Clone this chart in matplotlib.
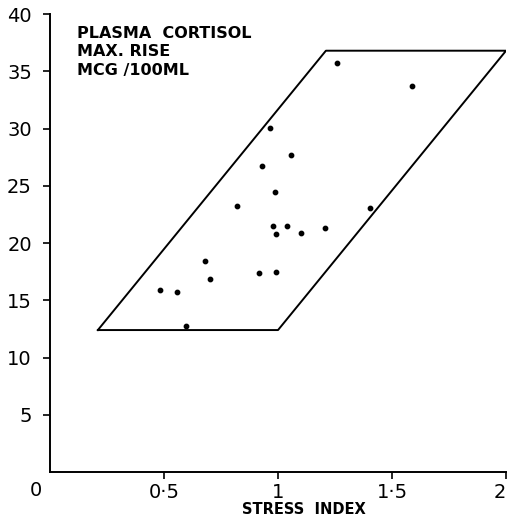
import matplotlib.pyplot as plt

# stress index vs max rise in plasma cortisol
stress = [1.058, 0.931, 0.988, 0.818, 0.976, 1.039, 0.990, 1.101, 1.206, 1.405,
          0.680, 0.702, 0.916, 0.992, 0.481, 0.559, 0.595, 1.257, 1.586, 0.967]
cortisol = [27.7, 26.7, 24.45, 23.2, 21.5, 21.5, 20.8, 20.9, 21.3, 23.06,
            18.4, 16.9, 17.35, 17.5, 15.87, 15.7, 12.75, 35.7, 33.7, 30.07]

# envelope drawn round the points
box_x = [0.21, 1.0, 2.0, 1.21, 0.21]
box_y = [12.4, 12.4, 36.8, 36.8, 12.4]

xticks = [0.5, 1, 1.5, 2]
xticklabels = ['0·5', '1', '1·5', '2']
yticks = [5, 10, 15, 20, 25, 30, 35, 40]

fig = plt.figure(figsize=(5.09, 5.21), dpi=100)
ax = fig.add_axes([0.0982, 0.094, 0.896, 0.879])

ax.plot(box_x, box_y, color='black', lw=1.4)
ax.scatter(stress, cortisol, s=10, c='black', zorder=3)

ax.set_xlim(0, 2)
ax.set_ylim(0, 40)
ax.spines['top'].set_visible(False)
ax.spines['right'].set_visible(False)
ax.spines['left'].set_linewidth(1.4)
ax.spines['bottom'].set_linewidth(1.4)

ax.set_xticks(xticks)
ax.set_xticklabels(xticklabels, fontsize=14)
ax.set_yticks(yticks)
ax.set_yticklabels([str(v) for v in yticks], fontsize=14)
ax.tick_params(length=5, width=1.2)
ax.tick_params(axis='x', pad=3)
ax.tick_params(axis='y', pad=8)
for lab in ax.get_xticklabels():
    if lab.get_text() == '2':
        lab.set_horizontalalignment('right')

ax.text(-0.06, -1.6, '0', fontsize=14, ha='center', va='center')
ax.text(1.115, -3.3, 'STRESS  INDEX', fontsize=10.5, fontweight='bold', ha='center', va='center')
ax.text(0.12, 39.0, 'PLASMA  CORTISOL\nMAX. RISE\nMCG /100ML', fontsize=11.5,
        fontweight='bold', ha='left', va='top', linespacing=1.3)

plt.savefig('out.png', dpi=100)
